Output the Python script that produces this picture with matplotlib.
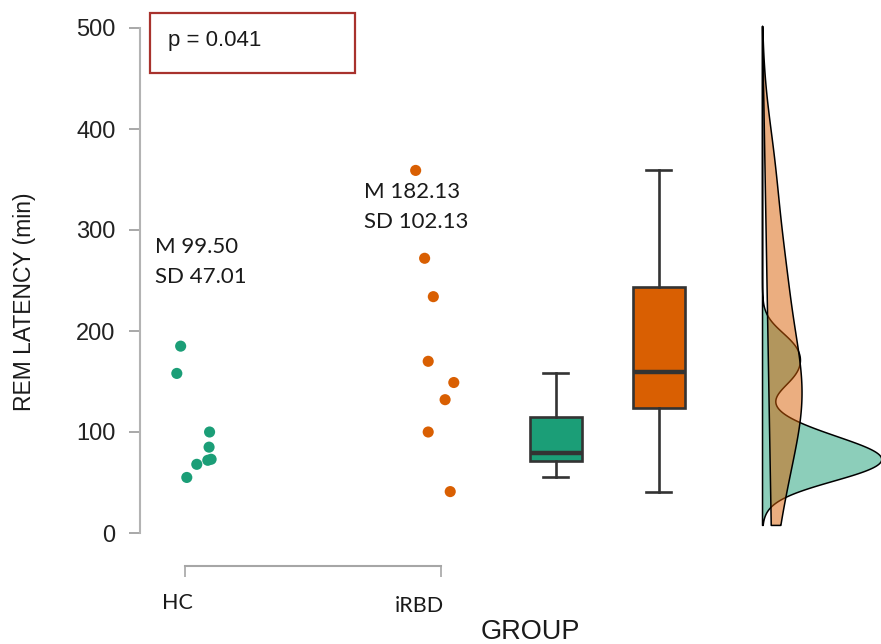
import numpy as np
import matplotlib
matplotlib.use("Agg")
import matplotlib.pyplot as plt
from matplotlib.patches import Rectangle
from matplotlib.colors import to_rgba

# ---- data -------------------------------------------------------------
groups = ["HC", "iRBD"]
hc_values = [185, 158, 100, 85, 73, 72, 68, 55]
irbd_values = [359, 272, 234, 170, 149, 132, 100, 41]
hc_jitter = [-0.017, -0.032, 0.096, 0.094, 0.102, 0.089, 0.046, 0.007]
irbd_jitter = [-0.099, -0.064, -0.030, -0.050, 0.050, 0.016, -0.050, 0.036]
group_means = [99.50, 182.13]
group_sds = [47.01, 102.13]
p_value = 0.041
y_ticks = [0, 100, 200, 300, 400, 500]

colors = ["#1b9e77", "#d95f02"]
edge_dark = "#333333"

W, H = 881, 644
fig = plt.figure(figsize=(W / 100, H / 100), dpi=100)
fig.patch.set_facecolor("white")


def fx(px):
    return px / W


def fy(py):
    return 1 - py / H


# axes: y from -5 to 505 mapped onto pixel rows 538..23
ax = fig.add_axes([fx(140), fy(538.05), fx(741), (538.05 - 22.95) / H])
ax.set_ylim(-5, 505)
ax.set_xlim(0.8242, 3.71875)
ax.set_facecolor("none")

sans = ["Liberation Sans", "DejaVu Sans"]
humanist = ["Lato", "DejaVu Sans"]

# ---- raw points -------------------------------------------------------
for i, (vals, jit) in enumerate([(hc_values, hc_jitter), (irbd_values, irbd_jitter)]):
    xs = (i + 1) + np.asarray(jit)
    ax.scatter(xs, vals, s=64, color=colors[i], edgecolors="none", zorder=3)

# ---- box plots --------------------------------------------------------
bp = ax.boxplot([hc_values, irbd_values], positions=[2.449, 2.85], widths=0.203,
                showfliers=False, patch_artist=True, whis=1.5, capwidths=0.098,
                boxprops=dict(edgecolor=edge_dark, linewidth=1.9),
                medianprops=dict(color=edge_dark, linewidth=3.2),
                whiskerprops=dict(color=edge_dark, linewidth=1.9),
                capprops=dict(color=edge_dark, linewidth=1.9), zorder=3)
for patch, c in zip(bp["boxes"], colors):
    patch.set_facecolor(c)


# ---- half densities ---------------------------------------------------
def kde(values, grid, bw):
    v = np.asarray(values, float)[:, None]
    z = (grid[None, :] - v) / bw
    return np.exp(-0.5 * z ** 2).sum(axis=0) / (len(values) * bw * np.sqrt(2 * np.pi))


grid = np.linspace(8, 502, 600)
base_x = 3.254
scale = 34.6
d_hc = kde(hc_values, grid, 17)
d_ir = kde(irbd_values, grid, 54)
base_ir = base_x + 0.034 * (502 - grid) / 494

ax.fill_betweenx(grid, base_x, base_x + d_hc * scale,
                 facecolor=to_rgba(colors[0], 0.5), edgecolor="black", linewidth=1.1, zorder=2)
ax.fill_betweenx(grid, base_ir, base_ir + d_ir * scale,
                 facecolor=to_rgba(colors[1], 0.5), edgecolor="black", linewidth=1.1, zorder=2)

# ---- axes styling -----------------------------------------------------
for s in ["top", "right"]:
    ax.spines[s].set_visible(False)
ax.spines["left"].set_bounds(0, 500)
ax.spines["left"].set_color("#b3b3b3")
ax.spines["left"].set_linewidth(1.5)
ax.spines["bottom"].set_position(("outward", 20))
ax.spines["bottom"].set_bounds(1, 2)
ax.spines["bottom"].set_color("#a6a6a6")
ax.spines["bottom"].set_linewidth(1.5)

ax.set_yticks(y_ticks)
ax.set_yticklabels([str(t) for t in y_ticks], fontsize=17, family=sans, color="#222222")
ax.tick_params(axis="y", length=8, width=1.2, color="#999999", pad=9.5)
ax.set_xticks([1, 2])
ax.set_xticklabels(["", ""])
ax.tick_params(axis="x", length=8, width=1.2, color="#a6a6a6")

# group labels under the bracket
fig.text(fx(177), fy(609), groups[0], ha="center", va="baseline",
         fontsize=15.5, family=humanist, color="#1a1a1a")
fig.text(fx(419.5), fy(612), groups[1], ha="center", va="baseline",
         fontsize=15.5, family=humanist, color="#1a1a1a")

fig.text(fx(530), fy(639), "GROUP", ha="center", va="baseline",
         fontsize=19.5, family=sans, color="#1a1a1a")
fig.text(fx(25), fy(302), "REM LATENCY (min)", ha="center", va="center",
         rotation=90, fontsize=16.5, family=sans, color="#1a1a1a")

# mean / SD annotations
stat_pos = [(0.883, 253, 283), (1.699, 198, 228)]
for (x, yb1, yb2), m, sd in zip(stat_pos, group_means, group_sds):
    ax.text(x, (533 - yb1) / 1.01, f"M {m:.2f}", ha="left", va="baseline",
            fontsize=16, family=humanist, color="#1a1a1a")
    ax.text(x, (533 - yb2) / 1.01, f"SD {sd:.2f}", ha="left", va="baseline",
            fontsize=16, family=humanist, color="#1a1a1a")

# p-value box
fig.add_artist(Rectangle((fx(149.7), fy(72.7)), fx(355 - 149.7), 60 / H,
                         transform=fig.transFigure, fill=False,
                         edgecolor="#a8322d", linewidth=1.6))
fig.text(fx(168), fy(45.7), f"p = {p_value:.3f}", ha="left", va="baseline",
         fontsize=16, family=sans, color="#1a1a1a")

fig.savefig("out.png", dpi=100, facecolor="white")
